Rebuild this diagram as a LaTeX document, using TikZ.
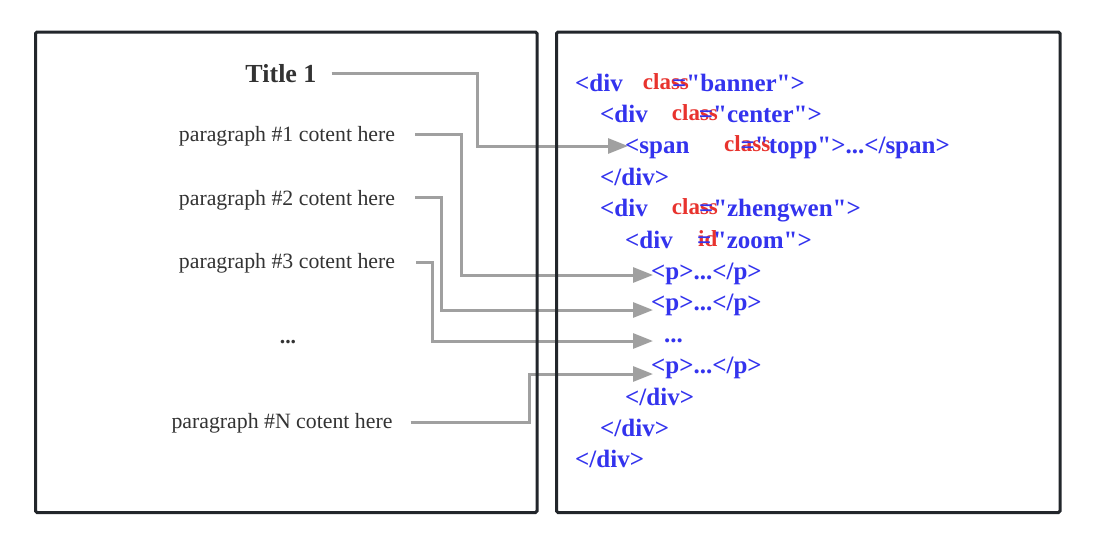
\documentclass[tikz,border=0pt]{standalone}
\usepackage{fontspec}
\setmainfont{Liberation Serif}[Ligatures=TeXOff]
\usetikzlibrary{arrows.meta}
\definecolor{codeblue}{RGB}{51,51,238}
\definecolor{attrred}{RGB}{232,51,46}
\definecolor{conngray}{RGB}{160,160,160}
\definecolor{boxdark}{RGB}{34,38,43}
\definecolor{txtgray}{RGB}{51,51,51}
\pgfdeclarelayer{bg}
\pgfsetlayers{bg,main}
\begin{document}
\begin{tikzpicture}[x=1pt,y=-1pt,
  panel/.style={draw=boxdark,line width=3pt,rounded corners=1.5pt},
  code/.style={inner sep=0pt,text=codeblue,font=\fontsize{25}{25}\selectfont\bfseries},
  codeL/.style={code,anchor=base west},
  codeR/.style={code,anchor=base east},
  attr/.style={inner sep=0pt,anchor=base west,text=attrred,font=\fontsize{23}{23}\selectfont\bfseries},
  para/.style={inner sep=0pt,text=txtgray,font=\fontsize{21.8}{22}\selectfont,anchor=base},
  ttl/.style={inner sep=0pt,text=txtgray,font=\fontsize{26}{26}\selectfont\bfseries,anchor=base},
  conn/.style={draw=conngray,line width=3pt,-{Triangle[length=20pt,width=15pt]}}
]
\useasboundingbox (0,0) rectangle (1104,552);
\begin{pgfonlayer}{bg}
\fill[white] (0,0) rectangle (1104,552);
\end{pgfonlayer}

% left panel texts
\node[ttl] (title) at (281,82) {Title 1};
\node[para] (p1) at (287,141) {paragraph \#1 cotent here};
\node[para] (p2) at (287,205) {paragraph \#2 cotent here};
\node[para] (p3) at (287,268) {paragraph \#3 cotent here};
\node[para,font=\fontsize{21.8}{22}\selectfont\bfseries] (pd) at (288,343) {...};
\node[para] (pN) at (282,428) {paragraph \#N cotent here};

% right panel: red attribute names (drawn first)
\node[attr] (r1) at (642.7,89) {class};
\node[attr] (r2) at (671.7,120.4) {class};
\node[attr] (r3) at (724,151.8) {class};
\node[attr] (r5) at (671.7,214.6) {class};
\node[attr] (r6) at (698,246) {id};

% right panel: blue code
\node[codeL] (c1) at (575,91) {<div};
\node[codeL] (c1b) at (672,91) {="banner">};
\node[codeL] (c2) at (600,122.4) {<div};
\node[codeR] (c2b) at (822,122.4) {="center">};
\node[codeL] (c3) at (625,153.8) {<span};
\node[codeR] (c3b) at (950,153.8) {="topp">...</span>};
\node[codeL] (c4) at (600,185.2) {</div>};
\node[codeL] (c5) at (600,216.6) {<div};
\node[codeR] (c5b) at (861,216.6) {="zhengwen">};
\node[codeL] (c6) at (625,248) {<div};
\node[codeL] (c6e) at (697,248) {=};
\node[codeR] (c6b) at (812,248) {"zoom">};
\node[codeL] (c7) at (651,279.4) {<p>...</p>};
\node[codeL] (c8) at (651,310.8) {<p>...</p>};
\node[codeL] (c9) at (664,342.2) {...};
\node[codeL] (c10) at (651,373.6) {<p>...</p>};
\node[codeL] (c11) at (625,405) {</div>};
\node[codeL] (c12) at (600,436.4) {</div>};
\node[codeL] (c13) at (575,467.8) {</div>};

% connector bends and tips
\coordinate (v1) at (477,146);   \coordinate (e1) at (628,146);
\coordinate (v2) at (461.5,275); \coordinate (e2) at (653,275);
\coordinate (v3) at (441,310);   \coordinate (e3) at (653,310);
\coordinate (v4) at (432,341);   \coordinate (e4) at (653,341);
\coordinate (v5) at (529,374);   \coordinate (e5) at (653,374);

\begin{pgfonlayer}{bg}
\draw[conn] ([shift={(15,-9)}]title.base east) -| (v1) -- (e1);
\draw[conn] ([shift={(20,-7)}]p1.base east) -| (v2) -- (e2);
\draw[conn] ([shift={(20,-8)}]p2.base east) -| (v3) -- (e3);
\draw[conn] ([shift={(21,-6)}]p3.base east) -| (v4) -- (e4);
\draw[conn] ([shift={(18,-6)}]pN.base east) -| (v5) -- (e5);
\draw[panel] (35.5,32) rectangle (537,512.5);
\draw[panel] (556.5,32) rectangle (1060,512.5);
\end{pgfonlayer}
\end{tikzpicture}
\end{document}
